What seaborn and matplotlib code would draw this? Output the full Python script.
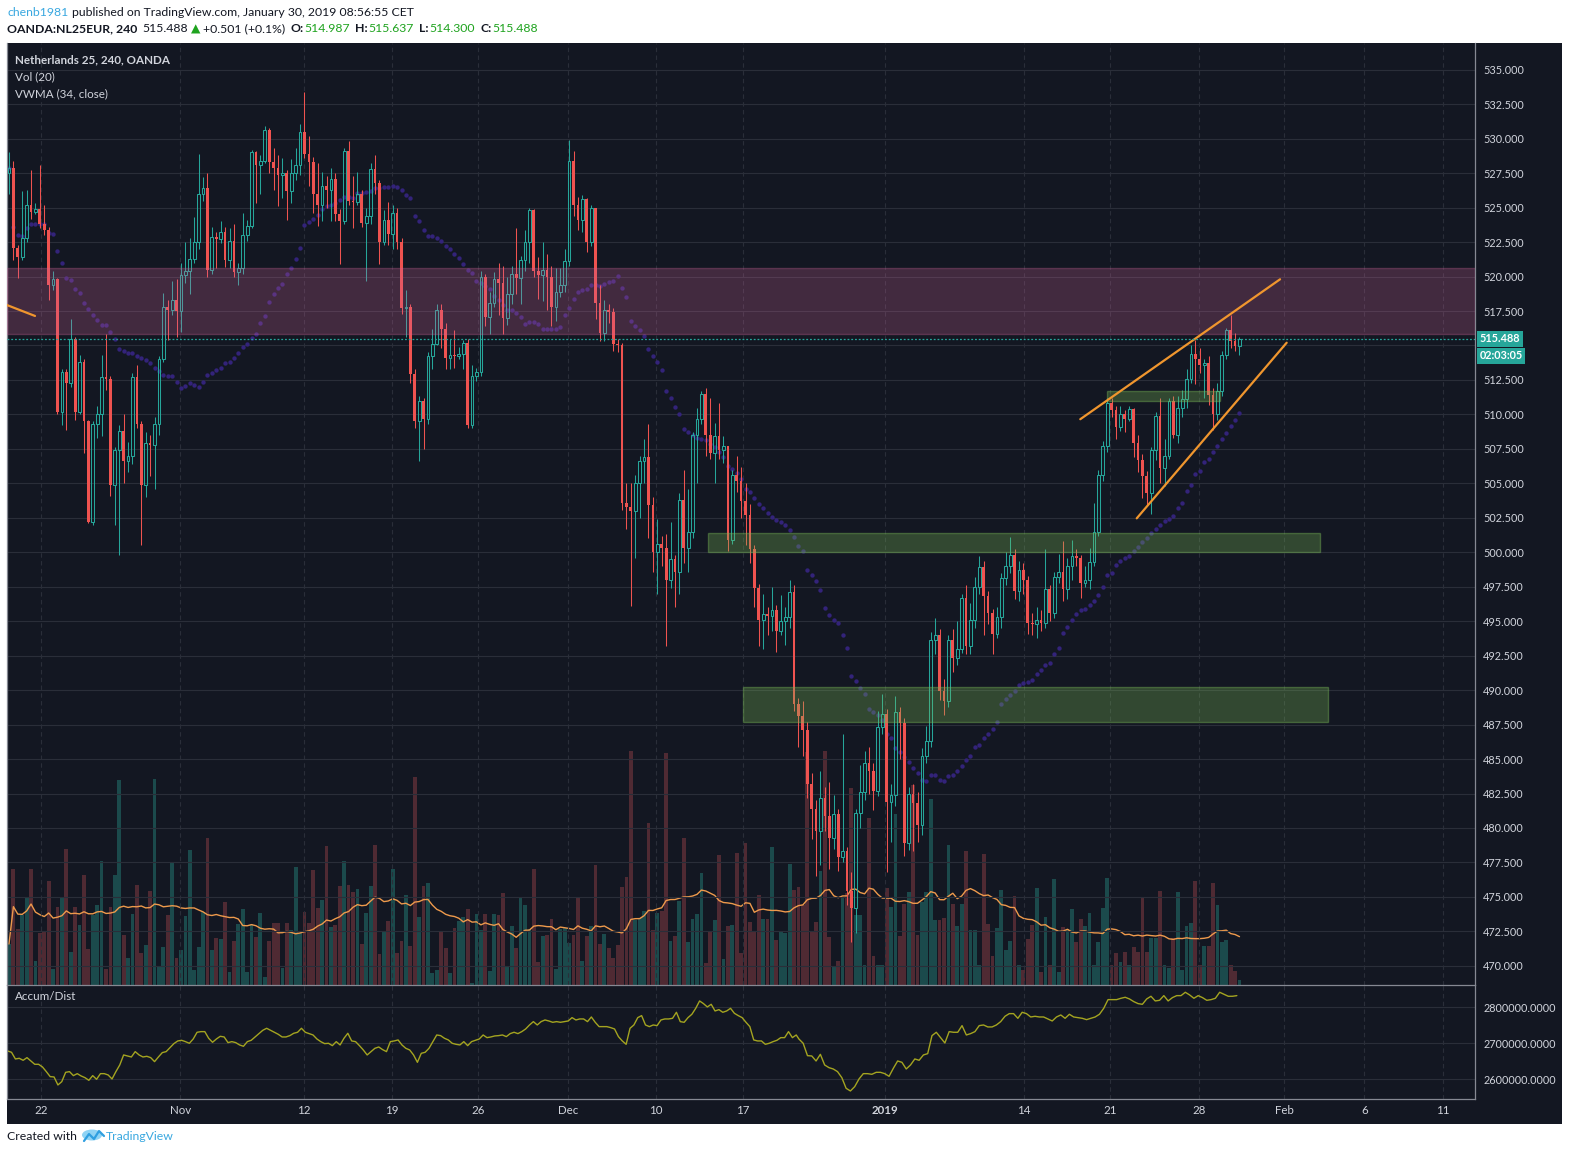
import numpy as np
import pandas as pd
import matplotlib.pyplot as plt
import seaborn as sns
from matplotlib.patches import Rectangle, Ellipse
from matplotlib.lines import Line2D

# ---------------- data (4h candles, NL25EUR) ----------------
first_open = 527.5
closes = [
    527.9, 522.1, 521.4, 522.8, 525.2, 524.7, 524.9, 523.8, 523.4, 519.4,
    519.8, 510.2, 513.1, 512.3, 515.5, 510.2, 513.8, 509.5, 502.2, 509.3,
    510.0, 512.7, 512.6, 504.9, 507.4, 508.8, 506.6, 507.0, 512.7, 509.3,
    504.9, 507.9, 507.8, 509.3, 514.0, 517.8, 517.6, 518.3, 517.5, 520.1,
    520.4, 521.3, 522.5, 526.0, 526.4, 520.5, 522.9, 522.7, 523.2, 521.2,
    522.6, 520.3, 520.6, 523.0, 523.7, 529.0, 528.1, 528.4, 530.6, 528.3,
    527.9, 527.4, 527.5, 526.2, 527.5, 528.1, 530.5, 528.9, 528.3, 526.0,
    525.2, 526.6, 526.3, 527.1, 524.5, 524.0, 529.1, 525.5, 525.4, 526.0,
    523.9, 524.4, 527.8, 526.8, 522.5, 524.1, 523.1, 524.6, 522.5, 517.7,
    517.8, 512.9, 509.5, 511.0, 509.7, 514.2, 515.1, 517.6, 516.2, 514.1,
    514.3, 514.2, 514.4, 515.2, 509.2, 512.8, 513.1, 520.0, 517.1, 518.1,
    519.8, 519.5, 517.0, 518.7, 520.2, 519.9, 521.2, 522.5, 524.8, 520.4,
    520.1, 520.5, 520.0, 517.8, 518.9, 519.4, 521.1, 528.4, 525.2, 524.1,
    525.6, 522.5, 525.0, 518.1, 515.9, 517.6, 517.4, 515.1, 515.0, 503.6,
    503.3, 503.0, 505.0, 506.6, 506.9, 503.4, 500.0, 500.6, 500.3, 498.0,
    499.5, 498.6, 503.8, 500.3, 501.5, 508.5, 509.7, 511.5, 508.5, 507.2,
    508.4, 507.4, 507.7, 500.9, 505.6, 505.2, 503.7, 502.7, 500.2, 497.4,
    495.1, 495.5, 495.4, 495.8, 494.3, 495.0, 495.3, 497.1, 489.0, 488.1,
    487.1, 483.2, 481.4, 479.8, 482.2, 480.9, 479.3, 481.0, 477.9, 478.3,
    475.4, 474.2, 481.1, 482.6, 484.7, 484.1, 482.7, 487.3, 488.3, 481.9,
    482.4, 488.4, 487.6, 478.9, 482.5, 481.8, 480.2, 485.2, 486.3, 493.6,
    494.0, 489.9, 489.2, 493.6, 492.3, 493.0, 496.7, 493.2, 495.1, 497.5,
    498.9, 496.8, 495.6, 494.1, 495.3, 498.1, 499.0, 499.8, 497.2, 498.7,
    498.0, 494.9, 494.8, 495.1, 494.9, 497.3, 495.6, 498.2, 498.6, 497.3,
    499.0, 499.7, 499.6, 497.8, 498.0, 499.3, 501.5, 505.6, 507.7, 510.8,
    510.3, 509.1, 510.0, 509.7, 510.4, 507.9, 506.7, 505.5, 504.3, 507.4,
    509.9, 506.1, 507.0, 511.0, 508.5, 510.5, 511.1, 512.6, 514.4, 514.0,
    513.6, 513.7, 511.4, 510.0, 511.7, 514.3, 516.1, 515.3, 514.987, 515.488,
]
highs = [
    529.0, 528.4, 522.3, 526.2, 526.3, 527.7, 525.3, 528.1, 525.2, 523.6,
    520.4, 519.9, 513.3, 513.3, 516.9, 515.6, 514.3, 514.0, 509.6, 509.5,
    510.6, 514.3, 515.8, 512.8, 507.6, 509.2, 510.0, 508.0, 513.0, 513.6,
    509.5, 508.7, 508.5, 509.8, 514.2, 518.8, 518.3, 519.7, 519.8, 521.0,
    522.5, 522.8, 524.3, 528.9, 527.2, 527.5, 523.6, 523.2, 524.0, 523.6,
    523.5, 523.8, 521.0, 524.6, 524.1, 529.2, 529.1, 528.8, 530.9, 530.8,
    529.3, 528.8, 528.6, 527.7, 528.5, 529.3, 531.1, 533.4, 530.2, 528.7,
    528.2, 527.6, 527.3, 527.9, 527.5, 524.9, 529.3, 529.8, 527.3, 527.6,
    526.3, 525.0, 528.2, 528.8, 527.0, 524.8, 525.4, 525.2, 525.0, 522.8,
    519.0, 518.0, 513.3, 511.3, 511.2, 514.5, 516.2, 518.0, 518.0, 516.6,
    515.5, 516.1, 514.9, 515.4, 515.5, 513.6, 513.4, 520.4, 520.2, 518.9,
    520.3, 521.0, 520.8, 520.0, 520.8, 523.5, 521.5, 523.4, 525.0, 524.9,
    521.4, 522.5, 521.6, 520.8, 520.6, 520.6, 522.0, 529.9, 529.1, 525.8,
    525.9, 525.7, 525.2, 525.0, 519.4, 518.3, 518.0, 517.7, 515.5, 515.2,
    505.0, 505.0, 505.6, 507.0, 508.2, 509.3, 504.0, 502.4, 501.2, 501.3,
    502.2, 499.8, 504.3, 506.0, 504.6, 508.7, 510.5, 511.7, 511.9, 511.2,
    509.4, 510.8, 508.4, 507.7, 506.0, 507.0, 506.2, 505.0, 503.5, 500.5,
    497.7, 497.0, 496.0, 497.5, 496.2, 496.9, 496.0, 498.0, 497.6, 489.4,
    489.2, 487.7, 484.0, 482.0, 484.1, 483.0, 483.3, 482.4, 481.4, 486.8,
    478.6, 476.8, 481.4, 484.6, 485.6, 485.9, 484.7, 488.5, 489.7, 488.6,
    483.2, 489.6, 488.8, 488.0, 483.0, 483.2, 482.6, 485.8, 487.4, 494.2,
    495.2, 494.4, 490.8, 494.0, 494.4, 495.0, 497.0, 497.6, 496.3, 498.2,
    499.7, 499.4, 497.2, 495.9, 496.0, 498.5, 500.0, 501.1, 500.2, 499.4,
    499.2, 498.3, 495.6, 496.0, 495.8, 500.2, 497.6, 498.6, 499.9, 500.8,
    499.6, 500.9, 500.2, 499.8, 499.0, 500.3, 503.6, 506.0, 508.1, 511.2,
    511.2, 510.6, 510.6, 510.3, 510.6, 510.5, 508.5, 507.1, 505.9, 507.6,
    510.2, 511.2, 508.2, 511.2, 511.3, 511.3, 511.8, 513.3, 515.0, 515.4,
    514.8, 514.0, 514.2, 511.9, 512.3, 514.6, 516.3, 517.2, 515.9, 515.637,
]
lows = [
    526.0, 521.2, 519.9, 521.2, 522.5, 524.2, 524.5, 523.5, 523.0, 518.3,
    519.0, 510.0, 509.2, 508.9, 512.0, 509.6, 510.0, 507.2, 502.1, 502.0,
    508.3, 508.4, 511.8, 504.1, 502.0, 499.8, 505.0, 505.8, 506.4, 509.0,
    500.5, 504.0, 505.5, 504.6, 508.5, 513.8, 515.4, 517.2, 515.6, 516.0,
    519.5, 518.7, 521.0, 522.0, 525.5, 520.0, 520.2, 520.6, 522.4, 520.7,
    520.6, 520.0, 519.4, 520.2, 522.6, 523.5, 525.3, 526.0, 528.2, 527.5,
    526.3, 525.1, 525.7, 524.1, 525.3, 527.0, 527.4, 528.6, 526.6, 524.6,
    523.7, 524.0, 525.0, 524.0, 524.0, 520.9, 523.8, 525.2, 523.5, 525.2,
    523.6, 519.7, 523.8, 526.0, 520.9, 522.3, 522.3, 522.0, 522.0, 517.3,
    515.6, 512.3, 509.0, 506.6, 507.5, 509.3, 513.3, 515.0, 514.8, 513.3,
    513.3, 513.4, 514.0, 513.3, 509.0, 509.0, 512.4, 512.8, 516.4, 515.8,
    517.8, 517.2, 515.8, 516.5, 518.0, 518.7, 518.0, 520.4, 521.0, 520.0,
    518.4, 518.2, 517.6, 516.4, 516.8, 518.5, 518.9, 520.8, 524.4, 523.4,
    523.2, 521.8, 522.2, 516.9, 515.3, 515.3, 516.6, 514.6, 514.5, 503.1,
    501.7, 496.1, 499.6, 502.5, 505.0, 501.0, 498.6, 497.0, 499.0, 493.2,
    497.4, 496.0, 497.0, 499.2, 498.6, 501.0, 505.0, 509.3, 507.0, 506.8,
    505.0, 506.8, 506.5, 500.1, 500.6, 504.4, 502.5, 500.5, 499.2, 496.0,
    493.2, 493.0, 494.0, 494.3, 492.8, 494.0, 493.3, 494.5, 488.5, 485.9,
    485.2, 482.2, 479.2, 476.5, 477.3, 479.8, 477.0, 478.5, 476.9, 477.5,
    474.4, 471.7, 472.4, 480.0, 482.0, 482.5, 481.3, 482.3, 486.8, 476.8,
    479.0, 481.6, 485.0, 478.0, 478.4, 478.3, 479.0, 479.5, 484.7, 485.9,
    492.6, 489.3, 488.2, 488.8, 491.3, 491.8, 492.7, 492.6, 492.6, 494.5,
    497.0, 494.0, 494.8, 492.6, 493.8, 494.5, 497.6, 498.5, 496.6, 496.5,
    497.0, 494.1, 494.0, 493.8, 494.3, 494.5, 495.0, 495.2, 497.8, 496.5,
    496.6, 498.0, 499.0, 496.7, 497.5, 497.3, 499.0, 501.2, 505.2, 507.3,
    509.8, 508.2, 508.8, 508.7, 509.5, 506.9, 505.8, 503.9, 503.4, 502.8,
    506.7, 505.0, 504.8, 506.8, 508.3, 507.9, 509.8, 510.5, 512.3, 512.2,
    513.0, 511.2, 510.7, 508.9, 509.6, 511.3, 514.0, 514.8, 514.6, 514.300,
]
volumes = [
    123, 347, 168, 210, 263, 347, 73, 157, 160, 312,
    48, 234, 261, 408, 99, 234, 180, 330, 107, 210,
    240, 372, 48, 234, 330, 615, 150, 80, 213, 300,
    95, 120, 282, 618, 55, 113, 210, 365, 80, 105,
    207, 405, 45, 113, 218, 441, 105, 140, 137, 249,
    39, 131, 183, 228, 39, 183, 143, 215, 23, 131,
    185, 185, 51, 185, 165, 354, 155, 219, 187, 345,
    230, 255, 417, 173, 179, 297, 372, 300, 279, 288,
    123, 215, 297, 420, 93, 159, 193, 348, 95, 132,
    270, 117, 625, 204, 297, 305, 35, 45, 159, 110,
    35, 171, 192, 203, 229, 7, 213, 165, 213, 43,
    213, 211, 275, 57, 177, 110, 261, 241, 167, 349,
    70, 147, 150, 198, 49, 167, 170, 125, 150, 261,
    73, 147, 177, 360, 123, 153, 112, 80, 120,
    294, 324, 702, 195, 202, 222, 486, 165, 217, 222,
    695, 132, 148, 253, 441, 129, 199, 212, 336, 66,
    161, 195, 390, 78, 177, 181, 396, 96, 426, 189,
    159, 270, 199, 199, 414, 135, 162, 155, 363, 284,
    294, 240, 698, 160, 190, 342, 702, 144, 57, 72,
    262, 275, 592, 210, 210, 60, 501, 88, 60, 60,
    291, 234, 513, 147, 243, 280, 600, 150, 249, 280,
    558, 194, 195, 201, 420, 242, 177, 243, 402, 165,
    165, 60, 393, 183, 88, 170, 285, 105, 133, 267,
    60, 45, 138, 180, 291, 39, 204, 60, 318, 40,
    175, 168, 229, 130, 199, 177, 216, 60, 129, 231,
    321, 60, 96, 69, 100, 60, 114, 99, 264, 99,
    142, 142, 283, 60, 50, 142, 279, 45, 178, 187,
    313, 60, 118, 118, 306, 240, 129, 135, 60, 42,
    15,
]
# Accum/Dist, in thousands, Oct 19 -> Dec 21 and Dec 21 -> Jan 30
ad_early = [
    2678.7, 2675.0, 2656.5, 2658.3, 2652.8, 2660.2, 2650.9, 2641.7, 2641.7, 2634.3,
    2621.3, 2607.4, 2606.5, 2584.3, 2593.5, 2619.4, 2621.3, 2610.2, 2615.7, 2609.3,
    2604.6, 2597.2, 2610.2, 2600.0, 2615.7, 2615.7, 2612.0, 2600.9, 2621.3, 2639.8,
    2667.6, 2664.8, 2662.0, 2676.9, 2667.6, 2662.0, 2663.9, 2660.2, 2649.1, 2662.0,
    2674.1, 2676.9, 2688.0, 2699.1, 2706.5, 2708.3, 2704.6, 2700.0, 2712.0, 2730.6,
    2732.4, 2732.4, 2713.9, 2702.8, 2712.0, 2719.4, 2717.6, 2701.9, 2704.6, 2701.9,
    2695.4, 2691.7, 2704.6, 2708.3, 2717.6, 2726.9, 2736.1, 2741.7, 2736.1, 2730.6,
    2725.0, 2717.6, 2717.6, 2721.3, 2727.8, 2730.6, 2741.7, 2730.6, 2726.9, 2723.1,
    2712.0, 2704.6, 2699.1, 2700.0, 2693.5, 2704.6, 2695.4, 2713.9, 2727.8, 2706.5,
    2704.6, 2693.5, 2681.5, 2667.6, 2676.9, 2686.1, 2689.8, 2682.4, 2676.9, 2704.6,
    2706.5, 2709.3, 2695.4, 2686.1, 2681.5, 2667.6, 2647.2, 2672.2, 2675.0, 2686.1,
    2704.6, 2723.1, 2721.3, 2713.9, 2709.3, 2700.0, 2697.2, 2695.4, 2704.6, 2693.5,
    2704.6, 2708.3, 2712.0, 2723.1, 2715.7, 2717.6, 2720.4, 2721.3, 2723.1, 2718.5,
    2726.9, 2730.6, 2726.9, 2732.4, 2739.8, 2750.9, 2760.2, 2750.9, 2760.2, 2764.8,
    2762.0, 2758.3, 2760.2, 2758.3, 2760.2, 2762.0, 2771.3, 2764.8, 2767.6, 2767.6,
    2760.2, 2773.1, 2758.3, 2746.3, 2746.3, 2746.3, 2743.5, 2739.8, 2718.5, 2706.5,
    2697.2, 2741.7, 2750.9, 2771.3, 2776.9, 2750.9, 2746.3, 2750.9, 2749.1, 2764.8,
    2767.6, 2767.6, 2769.4, 2786.1, 2760.2, 2758.3, 2771.3, 2780.6, 2797.2, 2817.6,
    2810.2, 2800.9, 2808.3, 2789.8, 2793.5, 2786.1, 2789.8, 2797.2, 2783.3, 2776.9,
    2771.3, 2758.3, 2746.3, 2709.3, 2706.5, 2706.5, 2697.2, 2700.0, 2704.6, 2708.3,
    2715.7, 2715.7, 2732.4, 2715.7, 2723.1,
]
ad_late = [
    2712.0, 2700.0, 2665.7, 2664.8, 2650.9, 2669.4, 2639.8, 2632.4, 2628.7, 2621.3,
    2604.6, 2575.0, 2567.6, 2579.6, 2600.9, 2615.7, 2615.7, 2613.9, 2619.4, 2619.4,
    2615.7, 2608.3, 2630.6, 2650.9, 2647.2, 2628.7, 2639.8, 2656.5, 2652.8, 2667.6,
    2671.3, 2721.3, 2730.6, 2715.7, 2700.9, 2732.4, 2730.6, 2730.6, 2749.1, 2723.1,
    2726.9, 2732.4, 2749.1, 2750.9, 2745.4, 2745.4, 2750.9, 2760.2, 2775.0, 2782.4,
    2782.4, 2769.4, 2786.1, 2782.4, 2773.1, 2775.0, 2773.1, 2773.1, 2767.6, 2762.0,
    2773.1, 2778.7, 2769.4, 2780.6, 2773.1, 2771.3, 2769.4, 2765.7, 2769.4, 2773.1,
    2780.6, 2797.2, 2821.3, 2821.3, 2821.3, 2825.0, 2827.8, 2823.1, 2815.7, 2810.2,
    2808.3, 2823.1, 2830.6, 2817.6, 2819.4, 2832.4, 2817.6, 2826.9, 2832.4, 2832.4,
    2841.7, 2834.3, 2825.0, 2832.4, 2826.9, 2819.4, 2821.3, 2825.0, 2841.7, 2836.1,
    2830.6, 2830.6, 2832.4,
]
date_labels = ['22', 'Nov', '12', '19', '26', 'Dec', '10', '17', '2019',
               '14', '21', '28', 'Feb', '6', '11']
date_bars = [7.3, 38.8, 66.9, 86.8, 106.3, 126.8, 146.7, 166.4, 198.6,
             230.2, 249.7, 269.8, 289.1, 307.3, 325.2]
price_ticks = np.arange(470, 535.1, 2.5)
ad_ticks = [2600000, 2700000, 2800000]
last_price = 515.488

# drawings on the chart (bar index / price)
resistance = (515.8, 520.6)
support_boxes = [(158.4, 297.3, 500.0, 501.4),
                 (166.5, 299.1, 487.7, 490.2),
                 (248.9, 274.6, 511.0, 511.7)]
trend_lines = [((-0.45, 517.93), (5.9, 517.14)),
               ((242.9, 509.65), (288.2, 519.8)),
               ((255.7, 502.46), (289.7, 515.2))]

# ---------------- frame ----------------
BG = '#131722'
GRID = '#2a2e39'
TXT = '#d1d4dc'
UP = '#26a69a'
DN = '#ef5350'
W, H = 1577, 1161

sns.set_theme(style='dark', rc={'axes.facecolor': BG, 'figure.facecolor': 'white'})
plt.rcParams['font.family'] = ['Lato', 'DejaVu Sans']

df = pd.DataFrame({'bar': np.arange(len(closes)), 'close': closes,
                   'high': highs, 'low': lows, 'volume': volumes})
df['open'] = np.r_[first_open, df['close'].values[:-1]]
df['up'] = df['close'] >= df['open']
df['vol_ma'] = df['volume'].rolling(20, min_periods=1).mean()
pv = (df['close'] * df['volume']).rolling(34, min_periods=1).sum()
df['vwma'] = pv / df['volume'].rolling(34, min_periods=1).sum()

ad = pd.DataFrame({
    'bar': np.r_[np.linspace(-0.3, 178.5, len(ad_early)),
                 np.linspace(179.1, 278.4, len(ad_late))],
    'ad': np.r_[ad_early, ad_late] * 1000})


def fx(px):
    return px / W


def fy(py):
    return 1 - py / H


fig = plt.figure(figsize=(W / 100, H / 100), dpi=100)
fig.patches.append(Rectangle((fx(7), fy(1124)), fx(1562) - fx(7), fy(43) - fy(1124),
                             transform=fig.transFigure, facecolor=BG,
                             edgecolor='none', zorder=-10))

main_rect = [fx(7), fy(985), fx(1475) - fx(7), fy(43) - fy(985)]
ax_vol = fig.add_axes(main_rect)
ax = fig.add_axes(main_rect, sharex=ax_vol)
ax_ad = fig.add_axes([fx(7), fy(1099), fx(1475) - fx(7), fy(985) - fy(1099)], sharex=ax_vol)
ax.set_zorder(1)
ax.patch.set_visible(False)

# volume + its moving average
ax_vol.bar(df['bar'], df['volume'], width=0.86, linewidth=0,
           color=np.where(df['up'], '#1b4a4c', '#4f2a33'))
sns.lineplot(data=df, x='bar', y='vol_ma', ax=ax_vol, color='#ee9a4c', lw=1.0)
ax_vol.set_ylim(0, 942 * 3)
ax_vol.set_xlim(-0.45, 332.4)
ax_vol.set_yticks([])
ax_vol.tick_params(axis='x', length=0, labelbottom=False)
ax_vol.set_xlabel('')
ax_vol.set_ylabel('')
for s in ax_vol.spines.values():
    s.set_visible(False)

# grid
for p in price_ticks:
    ax.axhline(p, color=GRID, lw=0.8, zorder=0.5)
for b in date_bars:
    ax.axvline(b, color=GRID, lw=0.8, ls=(0, (4, 3)), zorder=0.5)
    ax_ad.axvline(b, color=GRID, lw=0.8, ls=(0, (4, 3)), zorder=0.5)
for v in ad_ticks:
    ax_ad.axhline(v, color=GRID, lw=0.8, zorder=0.5)

# VWMA dots
sns.scatterplot(data=df, x='bar', y='vwma', ax=ax, color='#33237a', s=10,
                linewidth=0, zorder=1.5, legend=False)

# candles
dn = df[~df['up']]
upc = df[df['up']]
ax.vlines(dn['bar'], dn['low'], dn['high'], color=DN, lw=0.75, zorder=3)
ax.bar(dn['bar'], np.maximum(dn['open'] - dn['close'], 0.08), bottom=dn['close'],
       width=0.62, color=DN, linewidth=0, zorder=3)
ax.vlines(upc['bar'], upc['low'], upc['open'], color=UP, lw=0.75, zorder=3)
ax.vlines(upc['bar'], upc['close'], upc['high'], color=UP, lw=0.75, zorder=3)
ax.bar(upc['bar'], np.maximum(upc['close'] - upc['open'], 0.08), bottom=upc['open'],
       width=0.62, facecolor='none', edgecolor=UP, linewidth=0.75, zorder=3)

# zones and trend lines
ax.axhspan(*resistance, facecolor=(0.81, 0.39, 0.60, 0.25),
           edgecolor=(0.81, 0.39, 0.60, 0.3), lw=1, zorder=4)
for x0, x1, lo, hi in support_boxes:
    ax.add_patch(Rectangle((x0, lo), x1 - x0, hi - lo, facecolor=(0.48, 0.73, 0.34, 0.3),
                           edgecolor=(0.48, 0.73, 0.34, 0.4), lw=1, zorder=4))
for (xa, ya), (xb, yb) in trend_lines:
    ax.plot([xa, xb], [ya, yb], color='#f0962e', lw=1.6, zorder=5,
            solid_capstyle='round')
ax.axhline(last_price, color=UP, lw=0.9, ls=(0, (1.5, 1.5)), zorder=5)

ax.set_ylim(468.61, 536.94)
ax.set_xlim(-0.45, 332.4)
ax.yaxis.tick_right()
ax.set_yticks(price_ticks)
ax.set_yticklabels(['' if abs(p - 515) < 0.01 else f'{p:.3f}' for p in price_ticks])
ax.set_xticks(date_bars)
ax.tick_params(axis='y', length=0, pad=6, labelsize=7.8, labelcolor=TXT)
ax.tick_params(axis='x', length=0, labelbottom=False)
ax.set_xlabel('')
ax.set_ylabel('')
for name, s in ax.spines.items():
    s.set_visible(name in ('left', 'right', 'bottom'))
    s.set_color('#868993')
    s.set_linewidth(0.9)

# current price tags
tag = dict(boxstyle='square,pad=0.22', fc=UP, ec='none')
ax.annotate(f'{last_price:.3f}', xy=(1.0, last_price), xycoords=ax.get_yaxis_transform(),
            xytext=(3.5, 0), textcoords='offset points', ha='left', va='center',
            color='white', fontsize=7.8, fontweight='bold', bbox=tag, annotation_clip=False)
ax.annotate('02:03:05', xy=(1.0, last_price), xycoords=ax.get_yaxis_transform(),
            xytext=(3.5, -12.3), textcoords='offset points', ha='left', va='center',
            color='white', fontsize=7.8, fontweight='bold', bbox=tag, annotation_clip=False)

# accumulation / distribution
sns.lineplot(data=ad, x='bar', y='ad', ax=ax_ad, color='#a4a420', lw=1.0)
ax_ad.set_ylim(2545300, 2861900)
ax_ad.yaxis.tick_right()
ax_ad.set_yticks(ad_ticks)
ax_ad.set_yticklabels([f'{v:.4f}' for v in ad_ticks])
ax_ad.set_xticks(date_bars)
ax_ad.set_xticklabels(date_labels)
for lbl in ax_ad.get_xticklabels():
    if lbl.get_text() == '2019':
        lbl.set_fontweight('bold')
ax_ad.tick_params(axis='y', length=0, pad=6, labelsize=7.8, labelcolor=TXT)
ax_ad.tick_params(axis='x', length=0, pad=4, labelsize=8.3, labelcolor=TXT)
ax_ad.set_xlabel('')
ax_ad.set_ylabel('')
for name, s in ax_ad.spines.items():
    s.set_visible(name in ('left', 'right', 'bottom'))
    s.set_color('#868993')
    s.set_linewidth(0.9)

# legends inside panes
fig.text(fx(15), fy(60), 'Netherlands 25, 240, OANDA', color=TXT, fontsize=8.4,
         fontweight='bold', va='center')
fig.text(fx(15), fy(77), 'Vol (20)', color=TXT, fontsize=8.4, va='center')
fig.text(fx(15), fy(94), 'VWMA (34, close)', color=TXT, fontsize=8.4, va='center')
fig.text(fx(15), fy(996), 'Accum/Dist', color=TXT, fontsize=8.4, va='center')

# header lines built piece by piece
renderer = fig.canvas.get_renderer()


def chain(x_px, y_px, parts, size):
    x = x_px
    for text, color, weight, gap in parts:
        t = fig.text(fx(x), fy(y_px), text, color=color, fontsize=size,
                     fontweight=weight, va='center', ha='left')
        x = t.get_window_extent(renderer).x1 + gap


DARK = '#131722'
GREEN = '#1fa31f'
chain(7, 12, [('chenb1981', '#3aa8e0', 'normal', 4),
              ('published on TradingView.com, January 30, 2019 08:56:55 CET', DARK, 'normal', 0)], 8.8)
chain(7, 29, [('OANDA:NL25EUR, 240', DARK, 'bold', 5),
              ('515.488', DARK, 'normal', 3),
              ('\u25b2', GREEN, 'normal', 3),
              ('+0.501 (+0.1%)', DARK, 'normal', 5),
              ('O:', DARK, 'bold', 1), ('514.987', GREEN, 'normal', 5),
              ('H:', DARK, 'bold', 1), ('515.637', GREEN, 'normal', 5),
              ('L:', DARK, 'bold', 1), ('514.300', GREEN, 'normal', 5),
              ('C:', DARK, 'bold', 1), ('515.488', GREEN, 'normal', 0)], 8.8)

# footer
fig.text(fx(7), fy(1137), 'Created with', color=DARK, fontsize=8.8, va='center')
fig.patches.append(Ellipse((fx(92), fy(1135)), fx(20), 11 / H, transform=fig.transFigure,
                           facecolor='#8fd3f4', edgecolor='none', zorder=2))
fig.lines.append(Line2D([fx(84), fx(89), fx(94), fx(99), fx(104)],
                        [fy(1141), fy(1134), fy(1139), fy(1131), fy(1136)],
                        transform=fig.transFigure, color='#2f9fe0', lw=1.6, zorder=3))
fig.text(fx(106), fy(1137), 'TradingView', color='#3aa8e0', fontsize=8.8, va='center')

fig.savefig('out.png', dpi=100, facecolor='white')
